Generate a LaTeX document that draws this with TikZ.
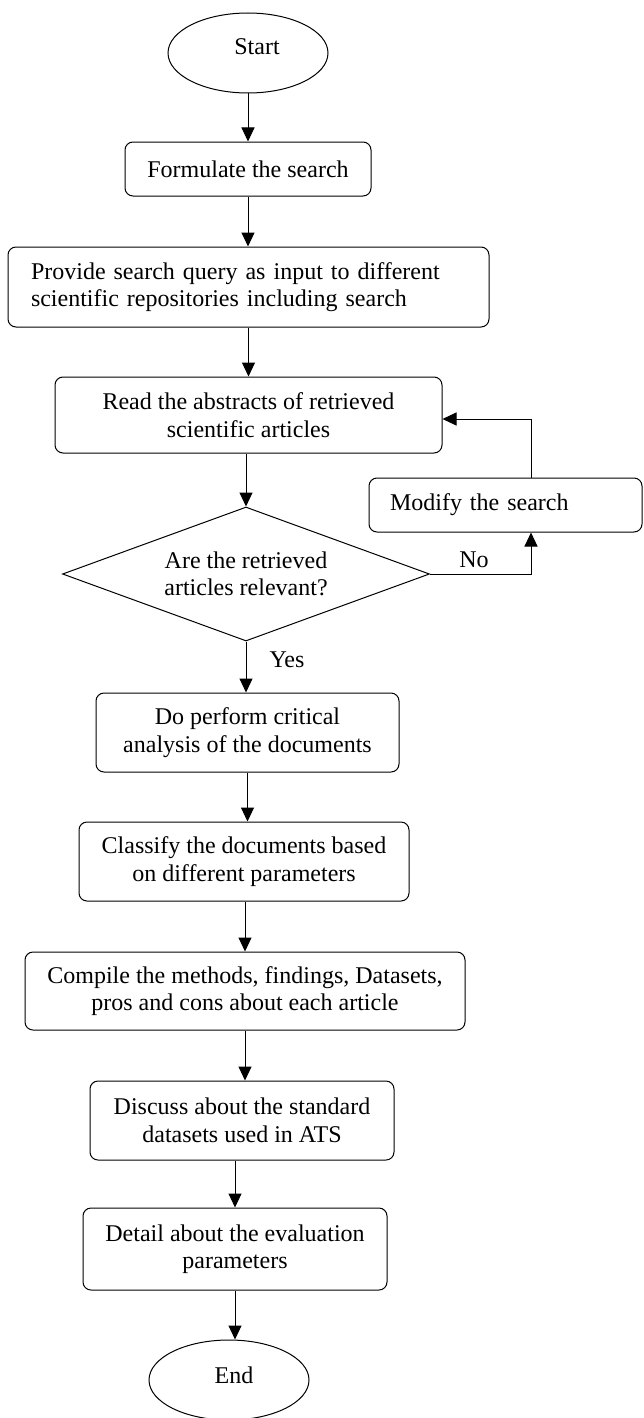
\documentclass[tikz,border=0pt]{standalone}
\usepackage{fontspec}
\setmainfont{Liberation Serif}
\usetikzlibrary{shapes.geometric,arrows.meta}
\begin{document}
\begin{tikzpicture}[x=1pt,y=-1pt,
  font=\fontsize{24}{27.5}\selectfont,
  box/.style={draw,line width=1pt,rounded corners=8pt,align=center,inner sep=0pt},
  term/.style={draw,ellipse,line width=1pt,minimum width=160pt,minimum height=80pt,inner sep=0pt},
  decision/.style={draw,diamond,line width=1pt,aspect=2.74,inner sep=0pt,minimum width=367pt,minimum height=134pt,align=center},
  arr/.style={line width=1pt,-{Triangle[width=13pt,length=14pt]}},
  lbl/.style={inner sep=0pt}]
\path[use as bounding box,fill=white] (0,0) rectangle (643,1418);

\node[term,text depth=12pt] (start) at (248,53) {\hspace*{18pt}Start};
\node[box,minimum width=246pt,minimum height=54pt] (formulate) at (248,169) {Formulate the search};
\node[box,minimum width=481pt,minimum height=80pt,text width=435pt,inner xsep=23pt,align=left] (provide) at (248.5,287) {Provide search query as input to different\\scientific repositories including search};
\node[box,minimum width=387pt,minimum height=76pt] (read) at (248.5,415) {Read the abstracts of retrieved\\scientific articles};
\node[box,minimum width=273pt,minimum height=54pt,text width=231pt,inner xsep=21pt,align=left] (modify) at (505.5,505) {Modify the search};
\node[decision] (dia) at (246,574) {Are the retrieved\\articles relevant?};
\node[box,minimum width=303pt,minimum height=79pt] (perform) at (247.5,732.5) {Do perform critical\\analysis of the documents};
\node[box,minimum width=330pt,minimum height=79pt] (classify) at (244,861.5) {Classify the documents based\\on different parameters};
\node[box,minimum width=440pt,minimum height=78pt] (compile) at (245,991) {Compile the methods, findings, Datasets,\\pros and cons about each article};
\node[box,minimum width=304pt,minimum height=79pt] (discuss) at (242,1120.5) {Discuss about the standard\\datasets used in ATS};
\node[box,minimum width=304pt,minimum height=82pt] (detail) at (235,1249) {Detail about the evaluation\\parameters};
\node[term,text depth=10pt] (end) at (229,1380) {\hspace*{10pt}End};
\node[lbl] (no) at (474,560) {No};
\node[lbl] (yes) at (287,660) {Yes};
\coordinate (fb) at (531,419);

\draw[arr] (start.south) -- (start.south |- formulate.north);
\draw[arr] (formulate.south) -- (formulate.south |- provide.north);
\draw[arr] (provide.south) -- (provide.south |- read.north);
\draw[arr] (read.south -| dia.north) -- (dia.north);
\draw[arr] (dia.south) -- (dia.south |- perform.north);
\draw[arr] (perform.south) -- (perform.south |- classify.north);
\draw[arr] (compile.north |- classify.south) -- (compile.north);
\draw[arr] (compile.south) -- (compile.south |- discuss.north);
\draw[arr] (detail.north |- discuss.south) -- (detail.north);
\draw[arr] (detail.south) -- (detail.south |- end.north);
\draw[arr] (dia.east) -- (dia.east -| fb) -- (modify.south -| fb);
\draw[arr] (modify.north -| fb) -- (fb) -- (fb -| read.east);
\end{tikzpicture}
\end{document}
